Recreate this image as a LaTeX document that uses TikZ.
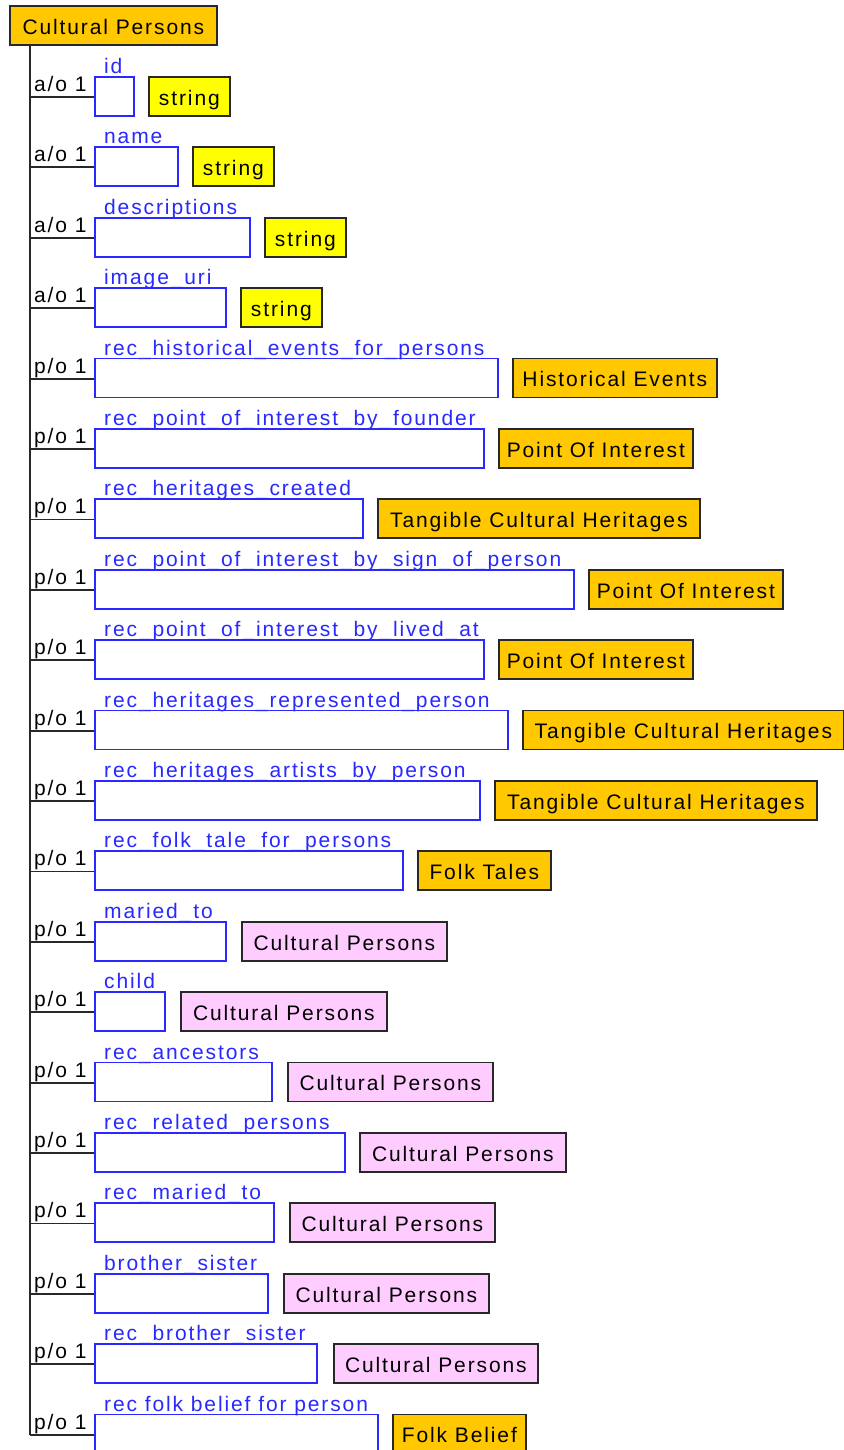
\documentclass[tikz,border=0pt]{standalone}
\usepackage{fontspec}
\setmainfont[LetterSpace=9]{Liberation Sans}
\definecolor{clsorange}{RGB}{255,200,0}
\definecolor{strfill}{RGB}{255,255,0}
\definecolor{selfpink}{RGB}{255,204,255}
\definecolor{fieldblue}{RGB}{40,40,255}
\definecolor{edge}{RGB}{40,40,40}
\begin{document}
\begin{tikzpicture}[x=1pt,y=-1pt,
  txt/.style={font=\fontsize{21}{25}\selectfont},
  classbox/.style={draw=edge, line width=1.7pt, txt, inner xsep=0pt, inner ysep=0pt,
    minimum height=39pt, text height=18pt, text depth=0pt, anchor=north west},
  fieldbox/.style={draw=fieldblue, line width=1.8pt, minimum height=39pt, inner sep=0pt, anchor=north west},
  fieldlabel/.style={txt, text=fieldblue, inner sep=0pt, anchor=base west},
  rolelabel/.style={txt, text=black, inner sep=0pt, anchor=base west},
  link/.style={draw=edge, line width=1.8pt}]
\useasboundingbox (0,0) rectangle (843,1450);
\fill[white] (0,0) rectangle (843,1450);
% the class at the root of the tree
\node[classbox, fill=clsorange, minimum width=207] (root) at (9,5) {Cultural Persons};
% one row per attribute: field box, its name, role and target type
\foreach \i/\lab/\br/\tx/\tw/\ty/\fc in {
  0/id/133/148/81/string/strfill,
  1/name/177/192/81/string/strfill,
  2/descriptions/249/264/81/string/strfill,
  3/image\_uri/225/240/81/string/strfill,
  4/rec\_historical\_events\_for\_persons/497/512/204/Historical Events/clsorange,
  5/rec\_point\_of\_interest\_by\_founder/483/498/194/Point Of Interest/clsorange,
  6/rec\_heritages\_created/362/377/322/Tangible Cultural Heritages/clsorange,
  7/rec\_point\_of\_interest\_by\_sign\_of\_person/573/588/194/Point Of Interest/clsorange,
  8/rec\_point\_of\_interest\_by\_lived\_at/483/498/194/Point Of Interest/clsorange,
  9/rec\_heritages\_represented\_person/507/522/321/Tangible Cultural Heritages/clsorange,
  10/rec\_heritages\_artists\_by\_person/479/494/322/Tangible Cultural Heritages/clsorange,
  11/rec\_folk\_tale\_for\_persons/402/417/133/Folk Tales/clsorange,
  12/maried\_to/225/241/205/Cultural Persons/selfpink,
  13/child/164/180/206/Cultural Persons/selfpink,
  14/rec\_ancestors/271/287/205/Cultural Persons/selfpink,
  15/rec\_related\_persons/344/359/206/Cultural Persons/selfpink,
  16/rec\_maried\_to/273/289/205/Cultural Persons/selfpink,
  17/brother\_sister/267/283/205/Cultural Persons/selfpink,
  18/rec\_brother\_sister/316/333/204/Cultural Persons/selfpink,
  19/rec folk belief for person/377/392/133/Folk Belief/clsorange}{
  \pgfmathsetmacro\cy{97+70.4*\i}
  \coordinate (j\i) at (30,\cy);
  \node[fieldbox, minimum width={\br-94}] (f\i) at (94,\cy-21) {};
  \node[fieldlabel] (n\i) at (104,\cy-23.5) {\lab};
  \node[rolelabel] (r\i) at (34,\cy-5.5) {\ifnum\i<4 a/o 1\else p/o 1\fi};
  \node[classbox, fill=\fc, minimum width=\tw] (t\i) at (\tx,\cy-21) {\ty};
  \draw[link] (j\i) -- (j\i -| f\i.west);
}
% trunk joining the root to every row
\draw[link] (root.south west -| j0) -- (j19);
\end{tikzpicture}
\end{document}
